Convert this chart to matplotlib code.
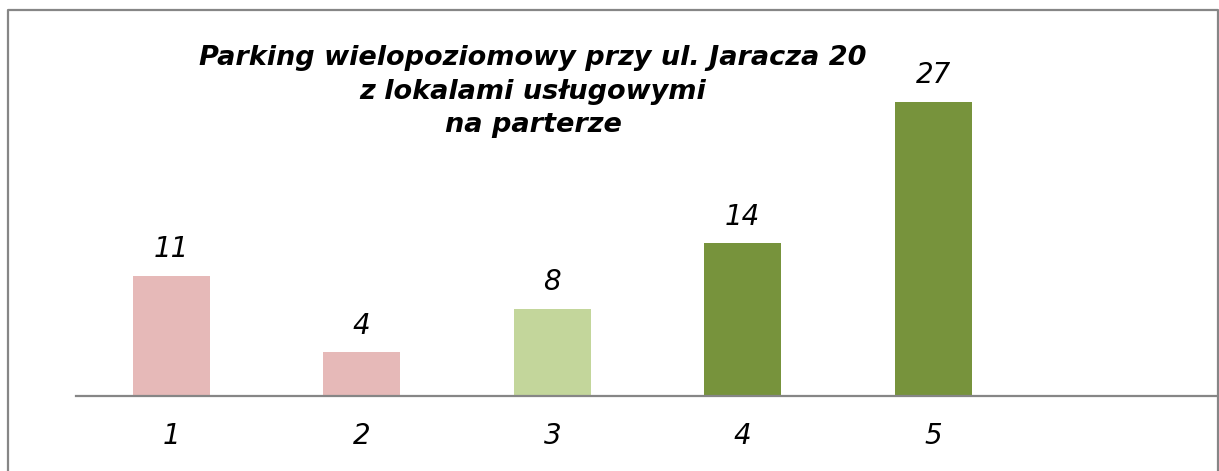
import matplotlib.pyplot as plt
from matplotlib.lines import Line2D

categories = ["1", "2", "3", "4", "5", ""]
values = [11, 4, 8, 14, 27]
colors = ["#E6B9B8", "#E6B9B8", "#C3D69B", "#77933C", "#77933C"]
title = "Parking wielopoziomowy przy ul. Jaracza 20\nz lokalami usługowymi\nna parterze"

W, H = 1219, 471
fig = plt.figure(figsize=(W / 100, H / 100), dpi=100)
ax = fig.add_axes([76 / W, 75 / H, 1 - 76 / W, (396 - 9) / H])

xs = list(range(len(values)))
ax.bar(xs, values, width=0.404, color=colors, zorder=2)
for x, v in zip(xs, values):
    ax.annotate(str(v), (x, v), xytext=(0, 13.5), textcoords="offset points",
                ha="center", va="baseline", fontsize=20, style="italic")

ax.set_xlim(-0.5, len(categories) - 0.5)
ax.set_ylim(0, 35.5)
ax.set_xticks(range(len(categories)), categories, fontsize=20, style="italic")
ax.tick_params(axis="x", length=0, pad=19)
ax.set_yticks([])
for s in ["top", "right", "left"]:
    ax.spines[s].set_visible(False)
ax.spines["bottom"].set_color("#868686")
ax.spines["bottom"].set_linewidth(1.6)

fig.text(533 / W, 1 - 45 / H, title, ha="center", va="top", fontsize=19.5,
         weight="bold", style="italic", linespacing=1.38)

# outer frame (no bottom edge)
bx = [7.5 / W, 7.5 / W, 1217.5 / W, 1217.5 / W]
by = [0, 1 - 9.5 / H, 1 - 9.5 / H, 0]
fig.add_artist(Line2D(bx, by, transform=fig.transFigure, color="#868686", lw=1.6))

fig.savefig("out.png", dpi=100)
